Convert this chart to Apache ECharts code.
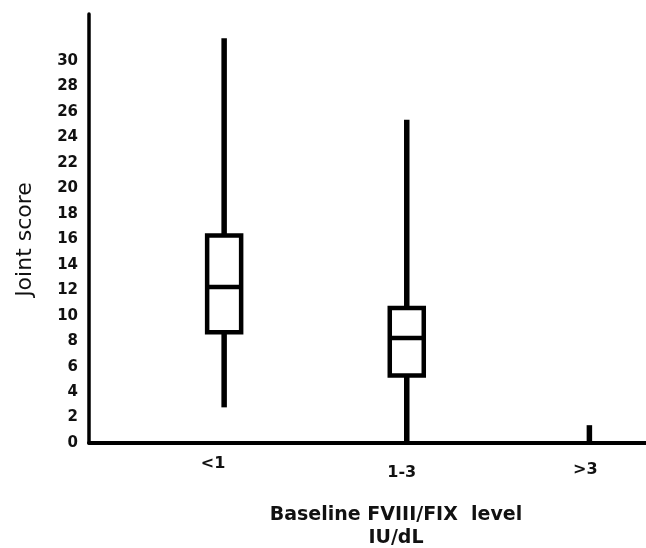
<!DOCTYPE html>
<html>

<head>
    <title>Joint score by baseline factor level</title>
    <meta charset="utf-8">
    <script src="https://cdn.jsdelivr.net/npm/echarts@6/dist/echarts.min.js"></script>
</head>

<body style="margin:0">
    <div id="box" style="width: 646px;height:548px;"></div>
    <script>
        var categories = ['<1', '1-3', '>3'];
        var whiskerLow = [2.8, 0, 0];
        var q1 = [8.7, 5.3, null];
        var medians = [12.25, 8.25, null];
        var q3 = [16.3, 10.6, null];
        var whiskerHigh = [31.8, 25.4, 1.4];
        var yTicks = [0, 2, 4, 6, 8, 10, 12, 14, 16, 18, 20, 22, 24, 26, 28, 30];

        var rows = categories.map((c, i) => [i, whiskerLow[i], q1[i], medians[i], q3[i], whiskerHigh[i]]);

        var chart = echarts.init(document.getElementById('box'));
        var option = {
            title: {
                text: 'Baseline FVIII/FIX  level\nIU/dL',
                left: 391,
                top: 498,
                textAlign: 'center',
                textStyle: {
                    fontFamily: 'DejaVu Sans',
                    fontSize: 19,
                    fontWeight: 'bold',
                    color: '#111',
                    lineHeight: 23.5
                }
            },
            grid: { left: 89, right: 0, top: 14, bottom: 105 },
            xAxis: {
                type: 'value',
                min: -0.74,
                max: 2.31,
                splitLine: { show: false },
                axisTick: { show: false },
                axisLine: { lineStyle: { color: '#000', width: 4 } },
                axisLabel: {
                    customValues: [0, 1, 2],
                    formatter: v => {
                        var i = Math.round(v);
                        return '{c' + i + '|' + categories[i] + '}';
                    },
                    margin: 13,
                    fontFamily: 'DejaVu Sans',
                    fontSize: 16,
                    fontWeight: 'bold',
                    color: '#111',
                    rich: {
                        c0: { padding: [0, 22, 0, 0] },
                        c1: { padding: [9, 10, 0, 0] },
                        c2: { padding: [6, 8, 0, 0] }
                    }
                }
            },
            yAxis: {
                type: 'value',
                min: 0,
                max: 33.7,
                name: 'Joint score',
                nameLocation: 'middle',
                nameGap: 53,
                nameTextStyle: {
                    fontFamily: 'DejaVu Sans',
                    fontSize: 22,
                    color: '#111',
                    padding: [0, 22, 0, 0]
                },
                splitLine: { show: false },
                axisTick: { show: false },
                axisLine: { show: true, onZero: false, lineStyle: { color: '#000', width: 3.5 } },
                axisLabel: {
                    customValues: yTicks,
                    margin: 11,
                    fontFamily: 'DejaVu Sans',
                    fontSize: 15,
                    fontWeight: 'bold',
                    color: '#111'
                }
            },
            series: [{
                type: 'custom',
                data: rows,
                renderItem: function (params, api) {
                    var x = api.value(0);
                    var lo = api.coord([x, api.value(1)]);
                    var hi = api.coord([x, api.value(5)]);
                    var cx = lo[0];
                    var line = { stroke: '#000', lineWidth: 5.5 };
                    var children = [];
                    if (api.value(2) == null || isNaN(api.value(2))) {
                        children.push({ type: 'line', shape: { x1: cx, y1: lo[1], x2: cx, y2: hi[1] }, style: line });
                        return { type: 'group', children: children };
                    }
                    var pq1 = api.coord([x, api.value(2)]);
                    var pm = api.coord([x, api.value(3)]);
                    var pq3 = api.coord([x, api.value(4)]);
                    var half = 17;
                    children.push({ type: 'line', shape: { x1: cx, y1: lo[1], x2: cx, y2: pq1[1] }, style: line });
                    children.push({ type: 'line', shape: { x1: cx, y1: pq3[1], x2: cx, y2: hi[1] }, style: line });
                    children.push({
                        type: 'rect',
                        shape: { x: cx - half, y: pq3[1], width: half * 2, height: pq1[1] - pq3[1] },
                        style: { fill: '#fff', stroke: '#000', lineWidth: 4.5 }
                    });
                    children.push({ type: 'line', shape: { x1: cx - half, y1: pm[1], x2: cx + half, y2: pm[1] }, style: { stroke: '#000', lineWidth: 4.5 } });
                    return { type: 'group', children: children };
                }
            }]
        };
        chart.setOption(option);
    </script>
</body>

</html>
